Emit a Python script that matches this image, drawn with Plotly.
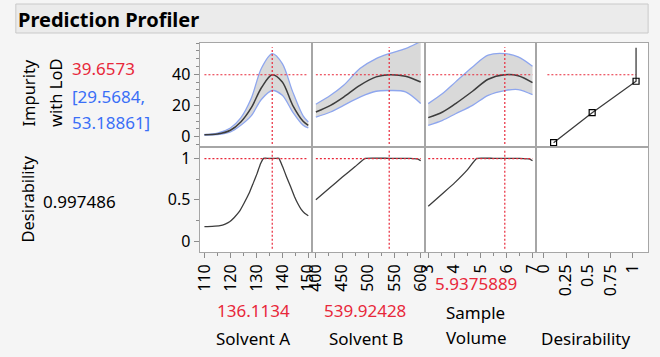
import plotly.graph_objects as go

# ---------------- data ----------------
solvent_a = [110, 115, 120, 124, 128, 132, 136.1134, 140, 144, 148, 150]
solvent_a_pred = [1.3, 1.7, 4.1, 9.4, 18.4, 31.5, 39.6573, 35.0, 20.1, 9.9, 7.3]
solvent_a_upper = [1.4, 2.3, 5.6, 12.0, 24.4, 44.0, 53.18861, 46.8, 28.7, 13.3, 9.4]
solvent_a_lower = [1.1, 1.3, 3.0, 7.3, 13.3, 24.0, 29.5684, 26.5, 15.8, 7.3, 5.6]

solvent_b = [400, 428, 453, 484, 515, 539.92428, 571, 600]
solvent_b_pred = [15.8, 20.1, 25.4, 32.9, 38.3, 39.6573, 38.7, 35.0]
solvent_b_upper = [20.8, 26.5, 32.9, 43.6, 50.0, 53.18861, 56.4, 61.0]
solvent_b_lower = [12.6, 15.8, 20.1, 25.4, 29.1, 29.5684, 28.7, 21.2]

sample_vol = [3, 3.55, 4.05, 4.7, 5.3, 5.9375889, 6.45, 7]
sample_vol_pred = [12.2, 15.8, 21.2, 29.1, 36.8, 39.6573, 39.0, 34.6]
sample_vol_upper = [21.2, 27.6, 35.1, 44.7, 52.2, 53.18861, 51.1, 45.1]
sample_vol_lower = [7.3, 10.5, 14.7, 20.1, 26.5, 29.5684, 30.2, 26.9]

desir_a_x = [110, 113, 116, 118, 119.7, 121.5, 123.4, 125.3, 127.2, 128.8, 130.3, 131.6, 132.8,
             134.5, 136.1, 137.5, 138.7, 140.1, 141.6, 143.2, 144.7, 146, 147.2, 148.6, 150]
desir_a = [0.173, 0.176, 0.185, 0.205, 0.233, 0.285, 0.354, 0.460, 0.577, 0.700, 0.818, 0.935, 1.0,
           1.0, 1.0, 1.0, 1.0, 0.90, 0.778, 0.655, 0.536, 0.450, 0.385, 0.335, 0.305]
desir_b_x = [400, 425, 450, 475, 494, 540, 580, 595, 600]
desir_b = [0.5, 0.635, 0.77, 0.9, 1.0, 1.0, 1.0, 0.99, 0.97]
desir_v_x = [3, 3.5, 4, 4.5, 4.86, 5.5, 6.5, 6.9, 7]
desir_v = [0.42, 0.56, 0.70, 0.86, 1.0, 1.0, 1.0, 0.99, 0.97]

# desirability function of the response (desirability on x, impurity on y)
dfun_d = [0.11, 0.545, 1.04]
dfun_imp = [-3.85, 15.4, 35.5]
dfun_top = 57.0

current_x = [136.1134, 539.92428, 5.9375889]
current_x_text = ["136.1134", "539.92428", "5.9375889"]
current_imp = 39.6573
current_imp_ci = ("29.5684", "53.18861")
current_desir = 0.997486

factor_names = ["Solvent A", "Solvent B", "Sample Volume", "Desirability"]
top_ticks = [0, 20, 40]
bot_ticks = [0, 0.5, 1]
bot_ticktext = ["0", "0.5", "1"]
x_ticks = [[110, 120, 130, 140, 150], [400, 450, 500, 550, 600], [3, 4, 5, 6, 7], [0, 0.25, 0.5, 0.75, 1]]
x_ticktext = [[str(v) for v in x_ticks[0]], [str(v) for v in x_ticks[1]], [str(v) for v in x_ticks[2]],
              ["0", "0.25", "0.5", "0.75", "1"]]
x_minor = [5, 25, 0.5, None]

# ---------------- layout geometry ----------------
W, H = 660, 357
FONT = "Noto Sans"
RED = "#e8283a"
BLUE = "#3a6ff7"
GRID = "#a6a6a6"
cols_px = [(196, 311), (311, 426.7), (426.7, 540), (540, 655)]
rows_px = [(43, 147), (147, 252)]
x_ranges = [[108.12, 151.4], [392.5, 608.2], [2.876, 7.124], [-0.0915, 1.176]]
y_ranges = [[-6.6, 60.0], [-0.133, 1.137]]

def px(x):
    return x / W

def py(y):
    return 1 - y / H

fig = go.Figure()
layout = dict(width=W, height=H, margin=dict(l=0, r=0, t=0, b=0),
              paper_bgcolor="#f5f5f5", plot_bgcolor="white", showlegend=False,
              font=dict(family=FONT, size=16, color="black"))

def axname(r, c):
    return r * 4 + c + 1

for r in range(2):
    for c in range(4):
        n = axname(r, c)
        xa = dict(domain=[px(cols_px[c][0]), px(cols_px[c][1])], range=x_ranges[c],
                  showgrid=False, zeroline=False, showline=True, mirror=True,
                  linecolor=GRID, linewidth=1, anchor="y%d" % n, fixedrange=True)
        ya = dict(domain=[py(rows_px[r][1]), py(rows_px[r][0])], range=y_ranges[r],
                  showgrid=False, zeroline=False, showline=True, mirror=True,
                  linecolor=GRID, linewidth=1, anchor="x%d" % n, fixedrange=True)
        if r == 1:
            xa.update(ticks="outside", ticklen=5, tickcolor="#8c8c8c", tickvals=x_ticks[c],
                      ticktext=x_ticktext[c], tickangle=-90, tickfont=dict(size=16))
            if x_minor[c]:
                xa["minor"] = dict(ticks="outside", ticklen=3, dtick=x_minor[c], tickcolor="#8c8c8c",
                                   tick0=x_ticks[c][0])
        else:
            xa.update(showticklabels=False, ticks="")
        if c == 0:
            if r == 0:
                ya.update(ticks="outside", ticklen=5, tickcolor="#8c8c8c", tickvals=top_ticks,
                          minor=dict(ticks="outside", ticklen=3, dtick=5, tick0=0, tickcolor="#8c8c8c"))
            else:
                ya.update(ticks="outside", ticklen=5, tickcolor="#8c8c8c", tickvals=bot_ticks,
                          ticktext=bot_ticktext,
                          minor=dict(ticks="outside", ticklen=3, dtick=0.25, tick0=0, tickcolor="#8c8c8c"))
        else:
            ya.update(showticklabels=False, ticks="")
        layout["xaxis%s" % ("" if n == 1 else n)] = xa
        layout["yaxis%s" % ("" if n == 1 else n)] = ya

def refs(r, c):
    n = axname(r, c)
    return dict(xaxis="x%d" % n, yaxis="y%d" % n)

profiles = [
    (solvent_a, solvent_a_pred, solvent_a_upper, solvent_a_lower, desir_a_x, desir_a),
    (solvent_b, solvent_b_pred, solvent_b_upper, solvent_b_lower, desir_b_x, desir_b),
    (sample_vol, sample_vol_pred, sample_vol_upper, sample_vol_lower, desir_v_x, desir_v),
]

dot = dict(color=RED, width=1.2, dash="2px,2px")
for c, (xs, pred, up, lo, dx, dv) in enumerate(profiles):
    # confidence band
    fig.add_trace(go.Scatter(x=xs, y=lo, mode="lines", line=dict(color="#8ea6ee", width=1.3, shape="spline", smoothing=0.9),
                             hoverinfo="skip", **refs(0, c)))
    fig.add_trace(go.Scatter(x=xs, y=up, mode="lines", fill="tonexty", fillcolor="#d9d9d9",
                             line=dict(color="#8ea6ee", width=1.3, shape="spline", smoothing=0.9),
                             hoverinfo="skip", **refs(0, c)))
    fig.add_trace(go.Scatter(x=xs, y=pred, mode="lines", line=dict(color="#3c3c3c", width=1.5, shape="spline", smoothing=0.9),
                             hoverinfo="skip", **refs(0, c)))
    # desirability profile
    fig.add_trace(go.Scatter(x=dx, y=dv, mode="lines", line=dict(color="#3c3c3c", width=1.3, shape="spline", smoothing=0.3),
                             hoverinfo="skip", **refs(1, c)))
    # current-value crosshairs
    yr0, yr1 = y_ranges[0]
    span0 = yr1 - yr0
    fig.add_trace(go.Scatter(x=[xs[0], xs[-1]], y=[current_imp, current_imp], mode="lines", line=dot,
                             hoverinfo="skip", **refs(0, c)))
    fig.add_trace(go.Scatter(x=[current_x[c], current_x[c]], y=[yr0 + 0.03 * span0, yr1 - 0.04 * span0],
                             mode="lines", line=dot, hoverinfo="skip", **refs(0, c)))
    br0, br1 = y_ranges[1]
    span1 = br1 - br0
    fig.add_trace(go.Scatter(x=[dx[0], dx[-1]], y=[current_desir, current_desir], mode="lines", line=dot,
                             hoverinfo="skip", **refs(1, c)))
    fig.add_trace(go.Scatter(x=[current_x[c], current_x[c]], y=[br0 + 0.03 * span1, br1 - 0.03 * span1],
                             mode="lines", line=dot, hoverinfo="skip", **refs(1, c)))

# desirability function panel
fig.add_trace(go.Scatter(x=[0.04, dfun_d[-1]], y=[current_imp, current_imp], mode="lines", line=dot,
                         hoverinfo="skip", **refs(0, 3)))
fig.add_trace(go.Scatter(x=dfun_d + [dfun_d[-1]], y=dfun_imp + [dfun_top], mode="lines",
                         line=dict(color="#3c3c3c", width=1.3), hoverinfo="skip", **refs(0, 3)))
fig.add_trace(go.Scatter(x=dfun_d, y=dfun_imp, mode="markers",
                         marker=dict(symbol="square-open", size=6, color="black", line=dict(width=1.2)),
                         hoverinfo="skip", **refs(0, 3)))
# empty bottom-right panel (needs a trace so the subplot is drawn)
fig.add_trace(go.Scatter(x=[None], y=[None], mode="lines", hoverinfo="skip", **refs(1, 3)))

# title bar
layout["shapes"] = [dict(type="rect", xref="paper", yref="paper", x0=px(8), x1=px(655), y0=py(33), y1=py(4),
                         fillcolor="#ebebeb", line=dict(color="#c9c9c9", width=1), layer="below")]

ann = []
def add_text(text, x, y, color="black", size=17, xanchor="center", angle=0, bold=False):
    ann.append(dict(text=("<b>%s</b>" % text) if bold else text, x=px(x), y=py(y), xref="paper", yref="paper",
                    xanchor=xanchor, yanchor="middle", showarrow=False, textangle=angle,
                    font=dict(family=FONT, size=size, color=color)))

add_text("Prediction Profiler", 8, 19, size=20, xanchor="left", bold=True)
add_text("Impurity", 21, 93, size=16.5, angle=-90)
add_text("with LoD", 49, 93, size=16.5, angle=-90)
add_text("%.4f" % current_imp, 63, 69, color=RED, xanchor="left")
add_text("[" + current_imp_ci[0] + ",", 63, 97, color=BLUE, xanchor="left")
add_text(current_imp_ci[1] + "]", 63, 122, color=BLUE, xanchor="left")
add_text("Desirability", 19, 199, size=16.5, angle=-90)
add_text("%.6f" % current_desir, 34, 201, xanchor="left")

add_text(current_x_text[0], 251, 310, color=RED)
add_text(factor_names[0], 251, 338)
add_text(current_x_text[1], 365, 310, color=RED)
add_text(factor_names[1], 366, 338)
add_text(current_x_text[2], 479, 283, color=RED)
add_text(factor_names[2].split(" ")[0], 446, 312, xanchor="left")
add_text(factor_names[2].split(" ")[1], 446, 337, xanchor="left")
add_text(factor_names[3], 591, 338)
layout["annotations"] = ann

fig.update_layout(**layout)
fig.write_html("out.html", config={"displayModeBar": False},
               post_script="document.body.style.margin='0';")
